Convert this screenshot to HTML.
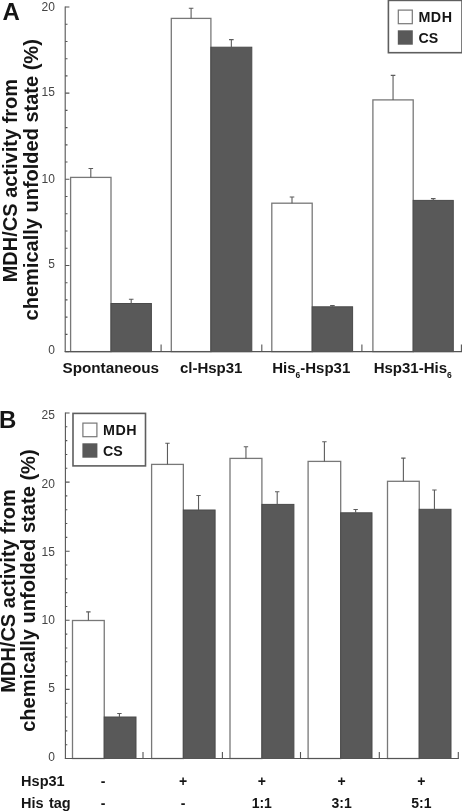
<!DOCTYPE html>
<html lang="en"><head><meta charset="utf-8"><title>Figure: MDH/CS refolding activity</title>
<style>
html,body{margin:0;padding:0;background:#fff;}
body{width:462px;height:812px;overflow:hidden;}
svg{display:block;will-change:transform;}
text{font-family:"Liberation Sans", sans-serif;fill:#151515;}
.b{font-weight:700;}
.t{fill:#444;font-size:12px;text-anchor:end;}
.m{text-anchor:middle;}
</style></head><body>
<svg width="462" height="812" viewBox="0 0 462 812">
<rect width="462" height="812" fill="#fff"/>
<g id="panelA">
<text x="2.4" y="20.4" class="b" font-size="24">A</text>
<text transform="translate(17.3 180.6) rotate(-90)" class="b m" font-size="20">MDH/CS activity from</text>
<text transform="translate(37.6 179.8) rotate(-90)" class="b m" font-size="20">chemically unfolded state (%)</text>
<rect x="70.60" y="177.40" width="40.40" height="174.20" fill="#fff" stroke="#787878" stroke-width="1.3"/>
<path d="M90.80 177.40V168.50M88.50 168.50H93.10" stroke="#5c5c5c" stroke-width="1.1" fill="none"/>
<rect x="111.00" y="303.50" width="40.40" height="48.10" fill="#595959" stroke="#4a4a4a" stroke-width="1"/>
<path d="M131.20 303.50V299.20M128.90 299.20H133.50" stroke="#5c5c5c" stroke-width="1.1" fill="none"/>
<rect x="171.30" y="18.40" width="39.60" height="333.20" fill="#fff" stroke="#787878" stroke-width="1.3"/>
<path d="M191.10 18.40V8.20M188.80 8.20H193.40" stroke="#5c5c5c" stroke-width="1.1" fill="none"/>
<rect x="210.90" y="47.20" width="40.90" height="304.40" fill="#595959" stroke="#4a4a4a" stroke-width="1"/>
<path d="M231.35 47.20V39.60M229.05 39.60H233.65" stroke="#5c5c5c" stroke-width="1.1" fill="none"/>
<rect x="271.80" y="203.20" width="40.40" height="148.40" fill="#fff" stroke="#787878" stroke-width="1.3"/>
<path d="M292.00 203.20V197.00M289.70 197.00H294.30" stroke="#5c5c5c" stroke-width="1.1" fill="none"/>
<rect x="312.20" y="306.80" width="40.40" height="44.80" fill="#595959" stroke="#4a4a4a" stroke-width="1"/>
<path d="M332.40 306.80V305.60M330.10 305.60H334.70" stroke="#5c5c5c" stroke-width="1.1" fill="none"/>
<rect x="372.90" y="99.90" width="40.30" height="251.70" fill="#fff" stroke="#787878" stroke-width="1.3"/>
<path d="M393.05 99.90V75.40M390.75 75.40H395.35" stroke="#5c5c5c" stroke-width="1.1" fill="none"/>
<rect x="413.20" y="200.40" width="40.10" height="151.20" fill="#595959" stroke="#4a4a4a" stroke-width="1"/>
<path d="M433.25 200.40V198.60M430.95 198.60H435.55" stroke="#5c5c5c" stroke-width="1.1" fill="none"/>
<path d="M65.20 6.50V352.10" stroke="#555" stroke-width="1.1" fill="none"/>
<path d="M65.20 351.60h4.2M65.20 334.37h2.3M65.20 317.14h2.3M65.20 299.91h2.3M65.20 282.68h2.3M65.20 265.45h4.2M65.20 248.22h2.3M65.20 230.99h2.3M65.20 213.76h2.3M65.20 196.53h2.3M65.20 179.30h4.2M65.20 162.07h2.3M65.20 144.84h2.3M65.20 127.61h2.3M65.20 110.38h2.3M65.20 93.15h4.2M65.20 75.92h2.3M65.20 58.69h2.3M65.20 41.46h2.3M65.20 24.23h2.3M65.20 7.00h4.2" stroke="#555" stroke-width="1.1" fill="none"/>
<path d="M64.7 351.6H462" stroke="#555" stroke-width="1.1" fill="none"/>
<path d="M161.1 351.6v-7M261.8 351.6v-7M361.9 351.6v-7M461.4 351.6v-7" stroke="#555" stroke-width="1.1" fill="none"/>
<text x="54.9" y="10.7" class="t">20</text>
<text x="54.9" y="96.2" class="t">15</text>
<text x="54.9" y="182.7" class="t">10</text>
<text x="54.9" y="268.2" class="t">5</text>
<text x="54.9" y="354.2" class="t">0</text>
<text x="110.8" y="373.1" class="b m" font-size="15.25">Spontaneous</text>
<text x="211.2" y="373.1" class="b m" font-size="15">cl-Hsp31</text>
<text x="311.2" y="373.1" class="b m" font-size="15">His<tspan font-size="8.5" dy="4.9">6</tspan><tspan dy="-4.9">-Hsp31</tspan></text>
<text x="412.7" y="373.1" class="b m" font-size="15">Hsp31-His<tspan font-size="8.5" dy="4.9">6</tspan></text>
<rect x="388.40" y="0.40" width="73.6" height="52.3" fill="#fff" stroke="#5e5e5e" stroke-width="1.6"/>
<rect x="398.30" y="10.10" width="14" height="13.6" fill="#fff" stroke="#777" stroke-width="1.2"/>
<rect x="397.80" y="30.30" width="15" height="14.4" fill="#595959"/>
<text x="418.40" y="21.90" class="b" font-size="14.3" letter-spacing="0.55">MDH</text>
<text x="418.40" y="43.30" class="b" font-size="14.2">CS</text>
</g>
<g id="panelB">
<text x="-0.9" y="427.7" class="b" font-size="24">B</text>
<text transform="translate(14.9 591.0) rotate(-90)" class="b m" font-size="20">MDH/CS activity from</text>
<text transform="translate(35.1 590.6) rotate(-90)" class="b m" font-size="20.1">chemically unfolded state (%)</text>
<rect x="72.50" y="620.50" width="31.75" height="138.00" fill="#fff" stroke="#787878" stroke-width="1.3"/>
<path d="M88.38 620.50V611.90M86.17 611.90H90.58" stroke="#5c5c5c" stroke-width="1.1" fill="none"/>
<rect x="104.25" y="717.00" width="31.75" height="41.50" fill="#595959" stroke="#4a4a4a" stroke-width="1"/>
<path d="M119.42 717.00V713.50M117.22 713.50H121.62" stroke="#5c5c5c" stroke-width="1.1" fill="none"/>
<rect x="151.60" y="464.40" width="31.75" height="294.10" fill="#fff" stroke="#787878" stroke-width="1.3"/>
<path d="M167.47 464.40V443.20M165.28 443.20H169.67" stroke="#5c5c5c" stroke-width="1.1" fill="none"/>
<rect x="183.35" y="510.00" width="31.75" height="248.50" fill="#595959" stroke="#4a4a4a" stroke-width="1"/>
<path d="M198.53 510.00V495.50M196.33 495.50H200.72" stroke="#5c5c5c" stroke-width="1.1" fill="none"/>
<rect x="230.00" y="458.40" width="31.90" height="300.10" fill="#fff" stroke="#787878" stroke-width="1.3"/>
<path d="M245.95 458.40V446.70M243.75 446.70H248.15" stroke="#5c5c5c" stroke-width="1.1" fill="none"/>
<rect x="261.90" y="504.40" width="32.00" height="254.10" fill="#595959" stroke="#4a4a4a" stroke-width="1"/>
<path d="M277.20 504.40V491.70M275.00 491.70H279.40" stroke="#5c5c5c" stroke-width="1.1" fill="none"/>
<rect x="308.10" y="461.40" width="32.60" height="297.10" fill="#fff" stroke="#787878" stroke-width="1.3"/>
<path d="M324.40 461.40V441.80M322.20 441.80H326.60" stroke="#5c5c5c" stroke-width="1.1" fill="none"/>
<rect x="340.70" y="512.80" width="31.30" height="245.70" fill="#595959" stroke="#4a4a4a" stroke-width="1"/>
<path d="M355.65 512.80V509.50M353.45 509.50H357.85" stroke="#5c5c5c" stroke-width="1.1" fill="none"/>
<rect x="387.50" y="481.30" width="31.75" height="277.20" fill="#fff" stroke="#787878" stroke-width="1.3"/>
<path d="M403.38 481.30V458.10M401.18 458.10H405.57" stroke="#5c5c5c" stroke-width="1.1" fill="none"/>
<rect x="419.25" y="509.30" width="31.75" height="249.20" fill="#595959" stroke="#4a4a4a" stroke-width="1"/>
<path d="M434.43 509.30V490.00M432.23 490.00H436.62" stroke="#5c5c5c" stroke-width="1.1" fill="none"/>
<path d="M65.40 412.50V759.00" stroke="#555" stroke-width="1.1" fill="none"/>
<path d="M65.40 758.50h4.2M65.40 744.68h1.9M65.40 730.86h1.9M65.40 717.04h1.9M65.40 703.22h1.9M65.40 689.40h4.2M65.40 675.58h1.9M65.40 661.76h1.9M65.40 647.94h1.9M65.40 634.12h1.9M65.40 620.30h4.2M65.40 606.48h1.9M65.40 592.66h1.9M65.40 578.84h1.9M65.40 565.02h1.9M65.40 551.20h4.2M65.40 537.38h1.9M65.40 523.56h1.9M65.40 509.74h1.9M65.40 495.92h1.9M65.40 482.10h4.2M65.40 468.28h1.9M65.40 454.46h1.9M65.40 440.64h1.9M65.40 426.82h1.9M65.40 413.00h4.2" stroke="#555" stroke-width="1.1" fill="none"/>
<path d="M64.9 758.5H458.8" stroke="#555" stroke-width="1.1" fill="none"/>
<path d="M143.0 758.5v-6.5M222.4 758.5v-6.5M300.5 758.5v-6.5M379.3 758.5v-6.5M458.3 758.5v-6.5" stroke="#555" stroke-width="1.1" fill="none"/>
<text x="54.9" y="418.5" class="t">25</text>
<text x="54.9" y="487.6" class="t">20</text>
<text x="54.9" y="555.7" class="t">15</text>
<text x="54.9" y="624.2" class="t">10</text>
<text x="54.9" y="692.1" class="t">5</text>
<text x="54.9" y="761.1" class="t">0</text>
<rect x="73.00" y="413.40" width="72.5" height="52.5" fill="#fff" stroke="#5e5e5e" stroke-width="1.6"/>
<rect x="82.90" y="423.10" width="14" height="13.6" fill="#fff" stroke="#777" stroke-width="1.2"/>
<rect x="82.40" y="443.30" width="15" height="14.4" fill="#595959"/>
<text x="103.00" y="434.90" class="b" font-size="14.3" letter-spacing="0.55">MDH</text>
<text x="103.00" y="456.30" class="b" font-size="14.2">CS</text>
<text x="21.1" y="785.5" class="b" font-size="14.5">Hsp31</text>
<text x="21.1" y="807.5" class="b" font-size="14.5" word-spacing="1.2">His tag</text>
<text x="103.0" y="785.9" class="b m" font-size="14">-</text>
<text x="183.2" y="785.9" class="b m" font-size="14">+</text>
<text x="261.8" y="785.9" class="b m" font-size="14">+</text>
<text x="341.6" y="785.9" class="b m" font-size="14">+</text>
<text x="421.4" y="785.9" class="b m" font-size="14">+</text>
<text x="103.0" y="807.9" class="b m" font-size="14">-</text>
<text x="183.2" y="807.9" class="b m" font-size="14">-</text>
<text x="261.8" y="807.9" class="b m" font-size="14">1:1</text>
<text x="341.6" y="807.9" class="b m" font-size="14">3:1</text>
<text x="421.4" y="807.9" class="b m" font-size="14">5:1</text>
</g>
</svg>
</body></html>
